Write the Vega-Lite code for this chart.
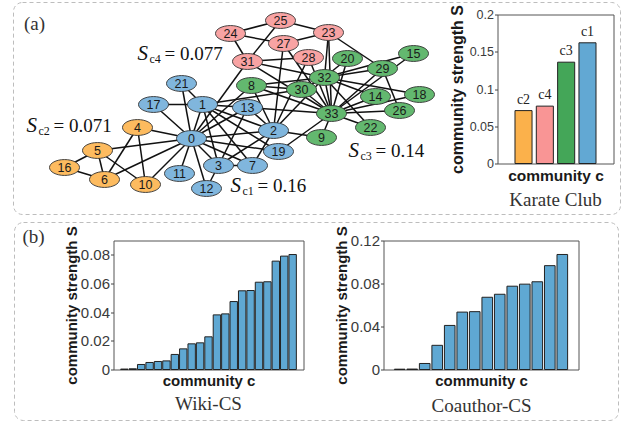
{
  "$schema": "https://vega.github.io/schema/vega-lite/v6.json",
  "padding": {"left": 12.5, "top": 1.5, "right": 1, "bottom": 1},
  "datasets": {
    "nodes": [
      {"id": 0, "x": 191, "y": 138, "comm": "c1"},
      {"id": 1, "x": 202, "y": 104, "comm": "c1"},
      {"id": 2, "x": 273, "y": 130, "comm": "c1"},
      {"id": 3, "x": 218, "y": 165, "comm": "c1"},
      {"id": 4, "x": 137, "y": 127, "comm": "c2"},
      {"id": 5, "x": 97, "y": 150, "comm": "c2"},
      {"id": 6, "x": 104, "y": 179, "comm": "c2"},
      {"id": 7, "x": 252, "y": 165, "comm": "c1"},
      {"id": 8, "x": 251, "y": 85, "comm": "c3"},
      {"id": 9, "x": 321, "y": 137, "comm": "c3"},
      {"id": 10, "x": 145, "y": 184, "comm": "c2"},
      {"id": 11, "x": 179, "y": 173, "comm": "c1"},
      {"id": 12, "x": 206, "y": 188, "comm": "c1"},
      {"id": 13, "x": 247, "y": 107, "comm": "c1"},
      {"id": 14, "x": 375, "y": 96, "comm": "c3"},
      {"id": 15, "x": 413, "y": 53, "comm": "c3"},
      {"id": 16, "x": 64, "y": 167, "comm": "c2"},
      {"id": 17, "x": 153, "y": 104, "comm": "c1"},
      {"id": 18, "x": 419, "y": 94, "comm": "c3"},
      {"id": 19, "x": 278, "y": 151, "comm": "c1"},
      {"id": 20, "x": 347, "y": 58, "comm": "c3"},
      {"id": 21, "x": 181, "y": 83, "comm": "c1"},
      {"id": 22, "x": 370, "y": 127, "comm": "c3"},
      {"id": 23, "x": 328, "y": 32, "comm": "c4"},
      {"id": 24, "x": 230, "y": 33, "comm": "c4"},
      {"id": 25, "x": 280, "y": 20, "comm": "c4"},
      {"id": 26, "x": 399, "y": 110, "comm": "c3"},
      {"id": 27, "x": 283, "y": 43, "comm": "c4"},
      {"id": 28, "x": 308, "y": 57, "comm": "c4"},
      {"id": 29, "x": 382, "y": 68, "comm": "c3"},
      {"id": 30, "x": 301, "y": 89, "comm": "c3"},
      {"id": 31, "x": 247, "y": 61, "comm": "c4"},
      {"id": 32, "x": 324, "y": 77, "comm": "c3"},
      {"id": 33, "x": 331, "y": 113, "comm": "c3"}
    ],
    "edges": [
      {"s": 0, "t": 1}, {"s": 0, "t": 2}, {"s": 0, "t": 3}, {"s": 0, "t": 4}, {"s": 0, "t": 5}, {"s": 0, "t": 6}, {"s": 0, "t": 7}, {"s": 0, "t": 8},
      {"s": 0, "t": 10}, {"s": 0, "t": 11}, {"s": 0, "t": 12}, {"s": 0, "t": 13}, {"s": 0, "t": 17}, {"s": 0, "t": 19}, {"s": 0, "t": 21}, {"s": 0, "t": 31},
      {"s": 1, "t": 2}, {"s": 1, "t": 3}, {"s": 1, "t": 7}, {"s": 1, "t": 13}, {"s": 1, "t": 17}, {"s": 1, "t": 19}, {"s": 1, "t": 21}, {"s": 1, "t": 30},
      {"s": 2, "t": 3}, {"s": 2, "t": 7}, {"s": 2, "t": 8}, {"s": 2, "t": 9}, {"s": 2, "t": 13}, {"s": 2, "t": 27}, {"s": 2, "t": 28}, {"s": 2, "t": 32},
      {"s": 3, "t": 7}, {"s": 3, "t": 12}, {"s": 3, "t": 13},
      {"s": 4, "t": 6}, {"s": 4, "t": 10},
      {"s": 5, "t": 6}, {"s": 5, "t": 10}, {"s": 5, "t": 16},
      {"s": 6, "t": 16},
      {"s": 8, "t": 30}, {"s": 8, "t": 32}, {"s": 8, "t": 33},
      {"s": 9, "t": 33}, {"s": 13, "t": 33},
      {"s": 14, "t": 32}, {"s": 14, "t": 33}, {"s": 15, "t": 32}, {"s": 15, "t": 33},
      {"s": 18, "t": 32}, {"s": 18, "t": 33}, {"s": 19, "t": 33},
      {"s": 20, "t": 32}, {"s": 20, "t": 33}, {"s": 22, "t": 32}, {"s": 22, "t": 33},
      {"s": 23, "t": 25}, {"s": 23, "t": 27}, {"s": 23, "t": 29}, {"s": 23, "t": 32}, {"s": 23, "t": 33},
      {"s": 24, "t": 25}, {"s": 24, "t": 27}, {"s": 24, "t": 31}, {"s": 25, "t": 31},
      {"s": 26, "t": 29}, {"s": 26, "t": 33}, {"s": 27, "t": 33},
      {"s": 28, "t": 31}, {"s": 28, "t": 33}, {"s": 29, "t": 32}, {"s": 29, "t": 33},
      {"s": 30, "t": 32}, {"s": 30, "t": 33}, {"s": 31, "t": 32}, {"s": 31, "t": 33}, {"s": 32, "t": 33}
    ]
  },
  "spacing": 6,
  "resolve": {"scale": {"color": "independent", "x": "independent", "y": "independent"}},
  "vconcat": [
    {
      "bounds": "flush",
      "spacing": 80,
      "resolve": {"scale": {"color": "independent", "x": "independent", "y": "independent"}},
      "hconcat": [
        {
          "width": 304,
          "height": 149,
          "view": {"stroke": null},
          "layer": [
            {
              "data": {"values": [{"x": 13, "x2": 620, "y": 2, "y2": 214}]},
              "mark": {"type": "rect", "filled": false, "stroke": "#bdbdbd", "strokeWidth": 1, "strokeDash": [4, 3], "cornerRadius": 9},
              "encoding": {
                "x": {"field": "x", "type": "quantitative", "scale": {"domain": [113, 417], "nice": false, "zero": false}, "axis": null},
                "x2": {"field": "x2"},
                "y": {"field": "y", "type": "quantitative", "scale": {"domain": [14, 163], "nice": false, "zero": false, "reverse": true}, "axis": null},
                "y2": {"field": "y2"}
              }
            },
            {
              "data": {"values": [{"x": 34, "y": 23, "t": "(a)"}]},
              "mark": {"type": "text", "font": "Liberation Serif", "fontSize": 19, "color": "#333", "baseline": "middle", "align": "center"},
              "encoding": {
                "x": {"field": "x", "type": "quantitative", "scale": {"domain": [113, 417], "nice": false, "zero": false}, "axis": null},
                "y": {"field": "y", "type": "quantitative", "scale": {"domain": [14, 163], "nice": false, "zero": false, "reverse": true}, "axis": null},
                "text": {"field": "t"}
              }
            },
            {
              "data": {"name": "edges"},
              "transform": [
                {"lookup": "s", "from": {"data": {"name": "nodes"}, "key": "id", "fields": ["x", "y"]}, "as": ["sx", "sy"]},
                {"lookup": "t", "from": {"data": {"name": "nodes"}, "key": "id", "fields": ["x", "y"]}, "as": ["tx", "ty"]}
              ],
              "mark": {"type": "rule", "color": "#111", "strokeWidth": 1.5},
              "encoding": {
                "x": {"field": "sx", "type": "quantitative", "scale": {"domain": [113, 417], "nice": false, "zero": false}, "axis": null},
                "y": {"field": "sy", "type": "quantitative", "scale": {"domain": [14, 163], "nice": false, "zero": false, "reverse": true}, "axis": null},
                "x2": {"field": "tx"},
                "y2": {"field": "ty"}
              }
            },
            {
              "data": {"name": "nodes"},
              "mark": {"type": "point", "filled": true, "opacity": 1, "size": 900, "stroke": "#333", "strokeWidth": 0.9,
                       "shape": "M-1,0C-1,-0.293 -0.552,-0.53 0,-0.53C0.552,-0.53 1,-0.293 1,0C1,0.293 0.552,0.53 0,0.53C-0.552,0.53 -1,0.293 -1,0Z"},
              "encoding": {
                "x": {"field": "x", "type": "quantitative", "scale": {"domain": [113, 417], "nice": false, "zero": false}, "axis": null},
                "y": {"field": "y", "type": "quantitative", "scale": {"domain": [14, 163], "nice": false, "zero": false, "reverse": true}, "axis": null},
                "color": {"field": "comm", "type": "nominal", "legend": null,
                          "scale": {"domain": ["c1", "c2", "c3", "c4"], "range": ["#80b6dd", "#fdbb5f", "#63b86f", "#f8a3a3"]}}
              }
            },
            {
              "data": {"name": "nodes"},
              "mark": {"type": "text", "font": "Liberation Sans", "fontSize": 12.5, "color": "#1a1a1a", "baseline": "middle", "align": "center"},
              "encoding": {
                "x": {"field": "x", "type": "quantitative", "scale": {"domain": [113, 417], "nice": false, "zero": false}, "axis": null},
                "y": {"field": "y", "type": "quantitative", "scale": {"domain": [14, 163], "nice": false, "zero": false, "reverse": true}, "axis": null},
                "text": {"field": "id"}
              }
            },
            {
              "data": {"values": [
                {"x": 137, "y": 53, "sub": "c4", "val": "= 0.077"},
                {"x": 26, "y": 125, "sub": "c2", "val": "= 0.071"},
                {"x": 230, "y": 185, "sub": "c1", "val": "= 0.16"},
                {"x": 348, "y": 150, "sub": "c3", "val": "= 0.14"}
              ]},
              "encoding": {
                "x": {"field": "x", "type": "quantitative", "scale": {"domain": [113, 417], "nice": false, "zero": false}, "axis": null},
                "y": {"field": "y", "type": "quantitative", "scale": {"domain": [14, 163], "nice": false, "zero": false, "reverse": true}, "axis": null}
              },
              "layer": [
                {"mark": {"type": "text", "text": "S", "font": "Liberation Serif", "fontStyle": "italic", "fontSize": 21, "color": "#111", "align": "left", "baseline": "middle"}},
                {"mark": {"type": "text", "font": "Liberation Serif", "fontSize": 12, "color": "#111", "align": "left", "baseline": "middle", "dx": 12, "dy": 5},
                 "encoding": {"text": {"field": "sub"}}},
                {"mark": {"type": "text", "font": "Liberation Serif", "fontSize": 19, "color": "#111", "align": "left", "baseline": "middle", "dx": 27},
                 "encoding": {"text": {"field": "val"}}}
              ]
            }
          ]
        },
        {
          "width": 116,
          "height": 149,
          "view": {"stroke": "#555"},
          "title": {"text": "Karate Club", "orient": "bottom", "frame": "group", "anchor": "middle", "font": "Liberation Serif", "fontSize": 19, "fontWeight": "normal", "color": "#333", "offset": 7},
          "data": {"values": [
            {"c": "c2", "s": 0.071},
            {"c": "c4", "s": 0.077},
            {"c": "c3", "s": 0.136},
            {"c": "c1", "s": 0.162}
          ]},
          "encoding": {
            "x": {"field": "c", "type": "nominal", "sort": null,
                  "scale": {"paddingInner": 0.2, "paddingOuter": 0.82},
                  "axis": {"title": "community c", "labels": false, "ticks": false, "domain": false, "titlePadding": 5, "titleFontSize": 15.5}},
            "y": {"field": "s", "type": "quantitative", "scale": {"domain": [0, 0.2], "nice": false},
                  "axis": {"title": "community strength S", "values": [0, 0.05, 0.1, 0.15, 0.2], "format": "~g", "labelFontSize": 12.5, "titlePadding": 4, "titleFontSize": 16}}
          },
          "layer": [
            {"mark": {"type": "bar", "stroke": "#222", "strokeWidth": 1},
             "encoding": {"color": {"field": "c", "type": "nominal", "legend": null,
                                    "scale": {"domain": ["c1", "c2", "c3", "c4"], "range": ["#62a8d3", "#fbb14b", "#44a658", "#f99595"]}}}},
            {"mark": {"type": "text", "font": "Liberation Serif", "fontSize": 14, "color": "#222", "baseline": "alphabetic", "dy": -7},
             "encoding": {"text": {"field": "c"}}}
          ]
        }
      ]
    },
    {
      "bounds": "flush",
      "spacing": 80,
      "resolve": {"scale": {"x": "independent", "y": "independent"}},
      "hconcat": [
        {
          "width": 190,
          "height": 129,
          "view": {"stroke": "#555"},
          "title": {"text": "Wiki-CS", "orient": "bottom", "frame": "group", "anchor": "middle", "font": "Liberation Serif", "fontSize": 19, "fontWeight": "normal", "color": "#333", "offset": 6},
          "data": {"values": [
            {"i": 1, "s": 0.0003}, {"i": 2, "s": 0.0005}, {"i": 3, "s": 0.0035}, {"i": 4, "s": 0.0049}, {"i": 5, "s": 0.0056},
            {"i": 6, "s": 0.006}, {"i": 7, "s": 0.0105}, {"i": 8, "s": 0.0144}, {"i": 9, "s": 0.0179}, {"i": 10, "s": 0.0186},
            {"i": 11, "s": 0.0228}, {"i": 12, "s": 0.0381}, {"i": 13, "s": 0.0388}, {"i": 14, "s": 0.0474}, {"i": 15, "s": 0.0549},
            {"i": 16, "s": 0.0551}, {"i": 17, "s": 0.0609}, {"i": 18, "s": 0.0612}, {"i": 19, "s": 0.0756}, {"i": 20, "s": 0.0791},
            {"i": 21, "s": 0.0802}
          ]},
          "mark": {"type": "bar", "fill": "#5fa8d3", "stroke": "#222", "strokeWidth": 1},
          "encoding": {
            "x": {"field": "i", "type": "ordinal", "scale": {"paddingInner": 0.12, "paddingOuter": 0.85},
                  "axis": {"orient": "bottom", "title": "community c", "labels": false, "ticks": false, "domain": false, "titlePadding": 4}},
            "y": {"field": "s", "type": "quantitative", "scale": {"domain": [0, 0.09], "nice": false},
                  "axis": {"title": "community strength S", "values": [0, 0.02, 0.04, 0.06, 0.08], "format": ".2~f", "labelFontSize": 15, "titlePadding": 1}}
          }
        },
        {
          "width": 195,
          "height": 129,
          "view": {"stroke": "#555"},
          "resolve": {"scale": {"x": "independent", "y": "independent"}},
          "layer": [
            {
              "data": {"values": [{"x": 14, "x2": 618, "y": 222, "y2": 420}]},
              "mark": {"type": "rect", "filled": false, "stroke": "#bdbdbd", "strokeWidth": 1, "strokeDash": [4, 3], "cornerRadius": 9},
              "encoding": {
                "x": {"field": "x", "type": "quantitative", "scale": {"domain": [383, 578], "nice": false, "zero": false},
                      "axis": {"orient": "bottom", "title": "Coauthor-CS", "labels": false, "ticks": false, "domain": false,
                               "titleFont": "Liberation Serif", "titleFontSize": 19, "titleFontWeight": "normal", "titleColor": "#333", "titlePadding": 27}},
                "x2": {"field": "x2"},
                "y": {"field": "y", "type": "quantitative", "scale": {"domain": [240, 369], "nice": false, "zero": false, "reverse": true}, "axis": null},
                "y2": {"field": "y2"}
              }
            },
            {
              "data": {"values": [{"x": 33, "y": 236, "t": "(b)"}]},
              "mark": {"type": "text", "font": "Liberation Serif", "fontSize": 19, "color": "#333", "baseline": "middle", "align": "center"},
              "encoding": {
                "x": {"field": "x", "type": "quantitative", "scale": {"domain": [383, 578], "nice": false, "zero": false}, "axis": null},
                "y": {"field": "y", "type": "quantitative", "scale": {"domain": [240, 369], "nice": false, "zero": false, "reverse": true}, "axis": null},
                "text": {"field": "t"}
              }
            },
            {
              "data": {"values": [
                {"i": 1, "s": 0.0003}, {"i": 2, "s": 0.0004}, {"i": 3, "s": 0.0056}, {"i": 4, "s": 0.0225}, {"i": 5, "s": 0.041},
                {"i": 6, "s": 0.0534}, {"i": 7, "s": 0.0538}, {"i": 8, "s": 0.0672}, {"i": 9, "s": 0.07}, {"i": 10, "s": 0.0775},
                {"i": 11, "s": 0.0794}, {"i": 12, "s": 0.0816}, {"i": 13, "s": 0.0966}, {"i": 14, "s": 0.107}
              ]},
              "mark": {"type": "bar", "fill": "#5fa8d3", "stroke": "#222", "strokeWidth": 1},
              "encoding": {
                "x": {"field": "i", "type": "ordinal", "scale": {"paddingInner": 0.15, "paddingOuter": 0.87},
                      "axis": {"orient": "bottom", "title": "community c", "labels": false, "ticks": false, "domain": false, "titlePadding": 4}},
                "y": {"field": "s", "type": "quantitative", "scale": {"domain": [0, 0.12], "nice": false},
                      "axis": {"orient": "left", "title": "community strength S", "values": [0, 0.04, 0.08, 0.12], "format": ".2~f", "labelFontSize": 15, "titlePadding": 1, "labelOverlap": false}}
              }
            }
          ]
        }
      ]
    }
  ],
  "config": {
    "font": "Liberation Sans",
    "axis": {
      "grid": false,
      "domain": false,
      "labelFont": "Liberation Sans",
      "labelColor": "#3a3a3a",
      "labelPadding": 1,
      "tickSize": 3,
      "tickColor": "#444",
      "titleFont": "Liberation Sans",
      "titleFontSize": 15,
      "titleFontWeight": "bold",
      "titleColor": "#1a1a1a"
    }
  }
}
